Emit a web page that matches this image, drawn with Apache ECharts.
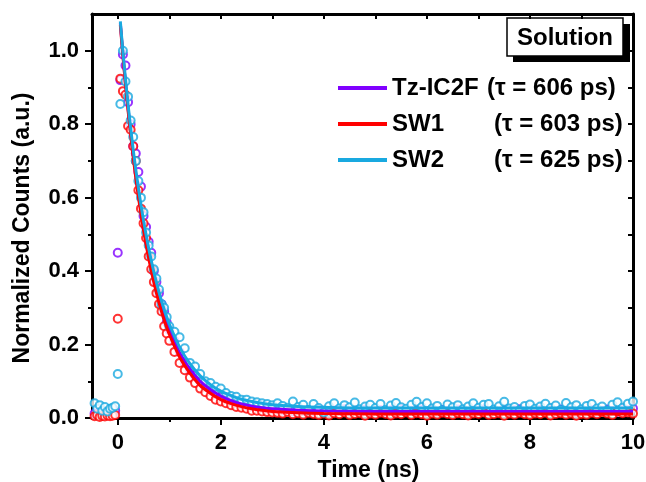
<!DOCTYPE html>
<html>
<head>
<meta charset="utf-8">
<title>Normalized Counts</title>
<script src="https://cdn.jsdelivr.net/npm/echarts@6/dist/echarts.min.js"></script>
<style>
  html, body { margin: 0; padding: 0; background: #fff; }
  #chart { width: 646px; height: 482px; }
</style>
</head>
<body>
<div id="chart"></div>
<script>
  // measured points (ns), shared by the three samples
  const times = [
    -0.45, -0.4, -0.35, -0.3, -0.25, -0.2, -0.15, -0.1, -0.05,
    0, 0.05, 0.1, 0.15, 0.2, 0.25, 0.3, 0.35, 0.4, 0.45, 0.5,
    0.55, 0.6, 0.65, 0.7, 0.75, 0.8, 0.85, 0.9, 0.95, 1.0,
    1.1, 1.2, 1.3, 1.4, 1.5, 1.6, 1.7, 1.8, 1.9, 2.0,
    2.1, 2.2, 2.3, 2.4, 2.5, 2.6, 2.7, 2.8, 2.9, 3.0,
    3.1, 3.2, 3.3, 3.4, 3.5, 3.6, 3.7, 3.8, 3.9,
    4.0, 4.1, 4.2, 4.3, 4.4, 4.5, 4.6, 4.7, 4.8, 4.9,
    5.0, 5.1, 5.2, 5.3, 5.4, 5.5, 5.6, 5.7, 5.8, 5.9,
    6.0, 6.1, 6.2, 6.3, 6.4, 6.5, 6.6, 6.7, 6.8, 6.9,
    7.0, 7.1, 7.2, 7.3, 7.4, 7.5, 7.6, 7.7, 7.8, 7.9,
    8.0, 8.1, 8.2, 8.3, 8.4, 8.5, 8.6, 8.7, 8.8, 8.9,
    9.0, 9.1, 9.2, 9.3, 9.4, 9.5, 9.6, 9.7, 9.8, 9.9,
    10.0
  ]

  const tzIc2fCounts = [
    0.012, 0.010, 0.015, 0.008, 0.013, 0.011, 0.014, 0.009, 0.020,
    0.45, 0.92, 0.99, 0.96, 0.86, 0.80, 0.74, 0.72, 0.67, 0.63, 0.55,
    0.52, 0.48, 0.45, 0.40, 0.37, 0.34, 0.31, 0.29, 0.26, 0.24,
    0.21, 0.18, 0.15, 0.13, 0.115, 0.10, 0.085, 0.075, 0.066, 0.058,
    0.052, 0.046, 0.042, 0.038, 0.035, 0.032, 0.030, 0.028, 0.026, 0.025,
    0.024, 0.020, 0.022, 0.018, 0.023, 0.019, 0.021, 0.017, 0.022,
    0.020, 0.016, 0.022, 0.019, 0.024, 0.017, 0.021, 0.018, 0.023, 0.015,
    0.019, 0.022, 0.017, 0.021, 0.018, 0.024, 0.016, 0.020, 0.019, 0.023,
    0.018, 0.021, 0.016, 0.022, 0.019, 0.017, 0.023, 0.020, 0.015, 0.021,
    0.019, 0.023, 0.017, 0.020, 0.016, 0.022, 0.018, 0.021, 0.024, 0.017,
    0.020, 0.016, 0.022, 0.019, 0.021, 0.017, 0.023, 0.018, 0.020, 0.015,
    0.021, 0.018, 0.022, 0.016, 0.020, 0.023, 0.019, 0.017, 0.024, 0.021,
    0.026
  ]

  const sw1Counts = [
    0.005, 0.008, 0.003, 0.006, 0.004, 0.007, 0.005, 0.006, 0.008,
    0.27, 0.924, 0.89, 0.88, 0.795, 0.785, 0.74, 0.70, 0.62, 0.57, 0.53,
    0.49, 0.44, 0.405, 0.37, 0.34, 0.31, 0.29, 0.25, 0.23, 0.21,
    0.18, 0.15, 0.13, 0.11, 0.095, 0.08, 0.07, 0.06, 0.05, 0.045,
    0.04, 0.035, 0.03, 0.028, 0.025, 0.02, 0.02, 0.018, 0.016, 0.015,
    0.014, 0.012, 0.016, 0.010, 0.013, 0.009, 0.014, 0.011, 0.008,
    0.012, 0.007, 0.013, 0.010, 0.015, 0.008, 0.011, 0.013, 0.006, 0.012,
    0.009, 0.014, 0.011, 0.007, 0.012, 0.010, 0.015, 0.008, 0.013, 0.010,
    0.006, 0.012, 0.009, 0.014, 0.011, 0.008, 0.013, 0.010, 0.007, 0.012,
    0.011, 0.015, 0.008, 0.010, 0.013, 0.006, 0.012, 0.009, 0.014, 0.010,
    0.008, 0.012, 0.010, 0.014, 0.007, 0.011, 0.013, 0.009, 0.012, 0.006,
    0.011, 0.009, 0.014, 0.010, 0.016, 0.012, 0.008, 0.018, 0.013, 0.015,
    0.012
  ]

  const sw2Counts = [
    0.040, 0.025, 0.035, 0.020, 0.030, 0.018, 0.025, 0.028, 0.032,
    0.12, 0.855, 1.0, 0.916, 0.875, 0.81, 0.765, 0.70, 0.645, 0.60, 0.56,
    0.505, 0.47, 0.44, 0.405, 0.38, 0.35, 0.31, 0.30, 0.275, 0.25,
    0.235, 0.22, 0.19, 0.15, 0.14, 0.12, 0.10, 0.095, 0.085, 0.08,
    0.068, 0.06, 0.058, 0.05, 0.05, 0.045, 0.043, 0.04, 0.038, 0.035,
    0.040, 0.033, 0.028, 0.045, 0.030, 0.036, 0.022, 0.038, 0.027,
    0.015, 0.032, 0.040, 0.026, 0.035, 0.029, 0.042, 0.024, 0.031, 0.036,
    0.027, 0.038, 0.022, 0.034, 0.041, 0.029, 0.025, 0.036, 0.044, 0.030,
    0.040, 0.026, 0.033, 0.021, 0.037, 0.029, 0.035, 0.024, 0.031, 0.040,
    0.028, 0.036, 0.038, 0.023, 0.032, 0.044, 0.026, 0.030, 0.021, 0.033,
    0.037, 0.025, 0.031, 0.039, 0.027, 0.034, 0.022, 0.041, 0.029, 0.035,
    0.024, 0.033, 0.038, 0.026, 0.031, 0.020, 0.036, 0.043, 0.028, 0.039,
    0.045
  ]

  // mono-exponential fit curves
  const fitTimes = [
    0.05, 0.1, 0.15, 0.2, 0.3, 0.4, 0.5, 0.6, 0.7, 0.8, 0.9, 1.0,
    1.2, 1.4, 1.6, 1.8, 2.0, 2.2, 2.4, 2.6, 2.8, 3.0,
    3.5, 4, 5, 6, 7, 8, 9, 10
  ]
  const tzIc2fFit = [
    1.075, 0.99, 0.913, 0.843, 0.718, 0.612, 0.522, 0.446, 0.381, 0.326, 0.279, 0.240,
    0.178, 0.133, 0.100, 0.077, 0.060, 0.047, 0.038, 0.032, 0.028, 0.025,
    0.021, 0.019, 0.018, 0.018, 0.018, 0.018, 0.018, 0.018
  ]
  const sw1Fit = [
    1.07, 0.986, 0.908, 0.837, 0.710, 0.603, 0.512, 0.435, 0.370, 0.314, 0.267, 0.228,
    0.166, 0.122, 0.088, 0.067, 0.050, 0.039, 0.031, 0.025, 0.021, 0.018,
    0.014, 0.012, 0.011, 0.011, 0.011, 0.011, 0.011, 0.011
  ]
  const sw2Fit = [
    1.08, 0.997, 0.923, 0.853, 0.730, 0.626, 0.538, 0.462, 0.398, 0.343, 0.296, 0.256,
    0.193, 0.148, 0.115, 0.091, 0.073, 0.061, 0.051, 0.045, 0.040, 0.036,
    0.031, 0.029, 0.027, 0.027, 0.027, 0.027, 0.027, 0.027
  ]

  const sampleNames = ['Tz-IC2F', 'SW1', 'SW2']
  const lifetimes = ['(τ = 606 ps)', '(τ = 603 ps)', '(τ = 625 ps)']
  const colors = ['#8000ff', '#ff0000', '#19a9e0']

  const xMajor = [0, 2, 4, 6, 8, 10]
  const xMinor = [1, 3, 5, 7, 9]
  const xTop = [0, 1, 2, 3, 4, 5, 6, 7, 8, 9, 10]
  const yMajor = [0, 0.2, 0.4, 0.6, 0.8, 1.0]
  const yMinor = [0.1, 0.3, 0.5, 0.7, 0.9]
  const yRight = [0.1, 0.2, 0.3, 0.4, 0.5, 0.6, 0.7, 0.8, 0.9, 1.0]

  const FONT = '"Liberation Sans", Arial, sans-serif'

  function zip(xs, ys) {
    return xs.map((x, i) => [x, ys[i]])
  }

  function scatterItem(name, data, color) {
    return {
      name: name + ' data',
      type: 'scatter',
      symbol: 'emptyCircle',
      symbolSize: 8,
      itemStyle: { color: color, borderColor: color, borderWidth: 1.6 },
      data: data,
      z: 2
    }
  }

  function lineItem(name, data, color) {
    return {
      name: name,
      type: 'line',
      showSymbol: false,
      smooth: 0.3,
      lineStyle: { color: color, width: 3 },
      itemStyle: { color: color },
      data: data,
      z: 3
    }
  }

  function tickAxis(position, values, length, inside) {
    return {
      type: 'value',
      position: position,
      min: position === 'left' || position === 'right' ? 0 : -0.5,
      max: position === 'left' || position === 'right' ? 1.1 : 10,
      axisLine: { show: false, onZero: false },
      axisTick: { show: true, inside: inside, length: length, customValues: values,
        lineStyle: { color: '#000', width: 2 } },
      axisLabel: { show: false },
      splitLine: { show: false }
    }
  }

  const chart = echarts.init(document.getElementById('chart'))

  const legendFont = { fontFamily: FONT, fontWeight: 'bold', fontSize: 24, color: '#000' }

  chart.setOption({
    animation: false,
    grid: { left: 92, right: 13, top: 14, bottom: 64, outerBoundsMode: 'none' },
    legend: {
      data: sampleNames,
      orient: 'vertical',
      left: 338,
      top: 76,
      padding: 0,
      icon: 'rect',
      itemWidth: 49,
      itemHeight: 4,
      itemGap: 12,
      formatter: function (name) {
        const i = sampleNames.indexOf(name)
        return '{' + (i === 0 ? 'a' : 'b') + '|' + name + '}{t|' + lifetimes[i] + '}'
      },
      textStyle: Object.assign({
        rich: {
          a: Object.assign({ width: 95 }, legendFont),
          b: Object.assign({ width: 102 }, legendFont),
          t: legendFont
        }
      }, legendFont)
    },
    graphic: [
      { type: 'rect', shape: { x: 513, y: 24, width: 117, height: 38 }, style: { fill: '#000' } },
      { type: 'rect', shape: { x: 507, y: 18, width: 116, height: 38 },
        style: { fill: '#fff', stroke: '#000', lineWidth: 1.5 } },
      { type: 'text', style: { x: 565, y: 38, text: 'Solution', font: 'bold 24px ' + FONT,
        textAlign: 'center', textVerticalAlign: 'middle', fill: '#000' } }
    ],
    xAxis: [
      {
        type: 'value',
        position: 'bottom',
        min: -0.5,
        max: 10,
        name: 'Time (ns)',
        nameLocation: 'middle',
        nameGap: 41,
        nameTextStyle: { color: '#000', fontFamily: FONT, fontWeight: 'bold', fontSize: 23,
          padding: [0, 0, 0, 12] },
        axisLine: { show: true, onZero: false, lineStyle: { color: '#000', width: 3 } },
        axisTick: { show: true, length: 7, customValues: xMajor, lineStyle: { color: '#000', width: 2 } },
        axisLabel: { customValues: xMajor, margin: 14, color: '#000', fontFamily: FONT,
          fontWeight: 'bold', fontSize: 22 },
        splitLine: { show: false }
      },
      tickAxis('bottom', xMinor, 4, false),
      {
        type: 'value',
        position: 'top',
        min: -0.5,
        max: 10,
        axisLine: { show: true, onZero: false, lineStyle: { color: '#000', width: 3 } },
        axisTick: { show: true, inside: true, length: 5, customValues: xTop, lineStyle: { color: '#000', width: 2 } },
        axisLabel: { show: false },
        splitLine: { show: false }
      }
    ],
    yAxis: [
      {
        type: 'value',
        position: 'left',
        min: 0,
        max: 1.1,
        name: 'Normalized Counts (a.u.)',
        nameLocation: 'middle',
        nameGap: 58,
        nameTextStyle: { color: '#000', fontFamily: FONT, fontWeight: 'bold', fontSize: 23,
          padding: [0, 24, 0, 0] },
        axisLine: { show: true, onZero: false, lineStyle: { color: '#000', width: 3 } },
        axisTick: { show: true, length: 7, customValues: yMajor, lineStyle: { color: '#000', width: 2 } },
        axisLabel: { customValues: yMajor, margin: 13, color: '#000', fontFamily: FONT,
          fontWeight: 'bold', fontSize: 22, formatter: v => v.toFixed(1) },
        splitLine: { show: false }
      },
      tickAxis('left', yMinor, 4, false),
      {
        type: 'value',
        position: 'right',
        min: 0,
        max: 1.1,
        axisLine: { show: true, onZero: false, lineStyle: { color: '#000', width: 3 } },
        axisTick: { show: true, inside: true, length: 5, customValues: yRight, lineStyle: { color: '#000', width: 2 } },
        axisLabel: { show: false },
        splitLine: { show: false }
      }
    ],
    series: [
      scatterItem(sampleNames[0], zip(times, tzIc2fCounts), colors[0]),
      scatterItem(sampleNames[1], zip(times, sw1Counts), colors[1]),
      scatterItem(sampleNames[2], zip(times, sw2Counts), colors[2]),
      lineItem(sampleNames[0], zip(fitTimes, tzIc2fFit), colors[0]),
      lineItem(sampleNames[1], zip(fitTimes, sw1Fit), colors[1]),
      lineItem(sampleNames[2], zip(fitTimes, sw2Fit), colors[2])
    ]
  })
</script>
</body>
</html>
